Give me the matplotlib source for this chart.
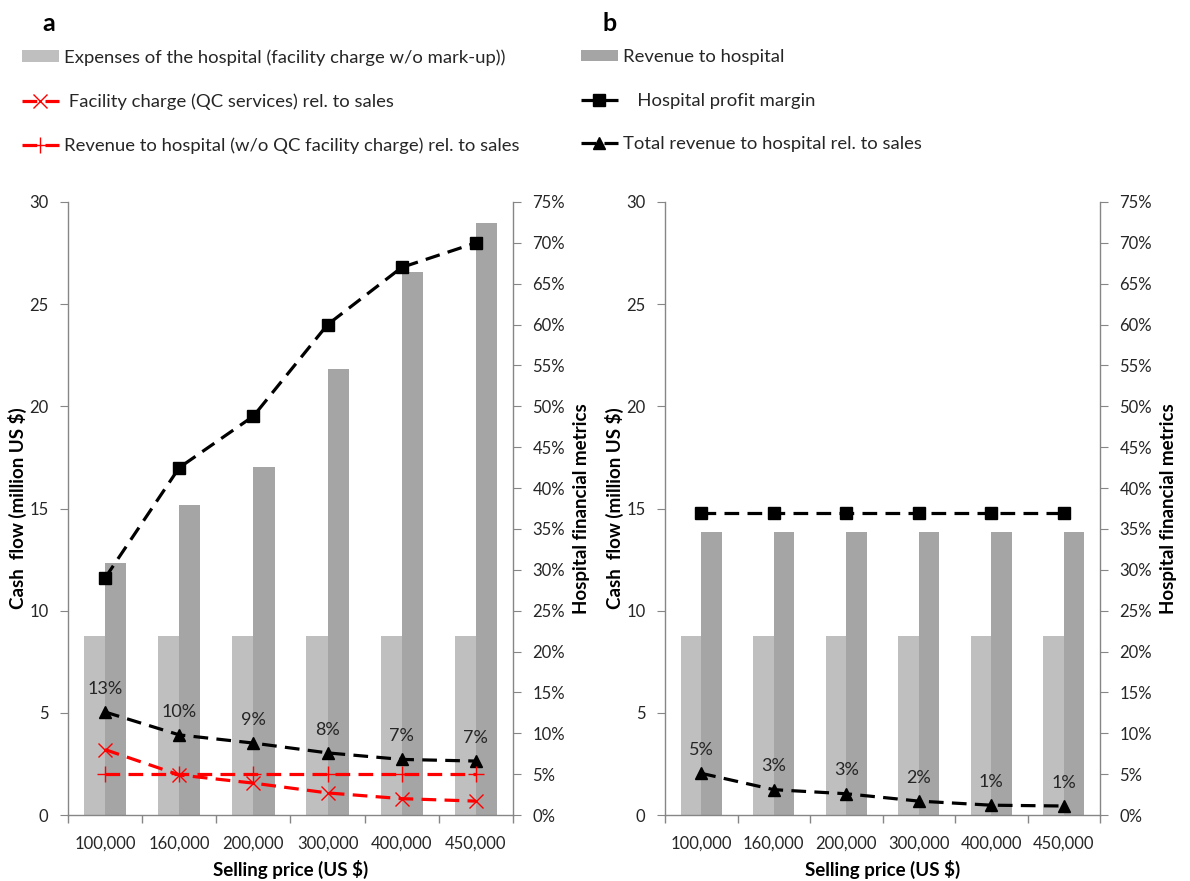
import matplotlib
matplotlib.use("Agg")
import matplotlib.pyplot as plt
from matplotlib.patches import Patch
from matplotlib.lines import Line2D
from matplotlib.ticker import PercentFormatter, FixedLocator
import numpy as np

plt.rcParams['font.family'] = ['Lato', 'DejaVu Sans']

# ---- data -------------------------------------------------------------
prices = ["100,000", "160,000", "200,000", "300,000", "400,000", "450,000"]

# panel a (million US $)
expenses_a = [8.76, 8.76, 8.76, 8.76, 8.76, 8.76]
revenue_a = [12.33, 15.17, 17.03, 21.83, 26.58, 28.98]
# panel a (fractions)
profit_margin_a = [0.29, 0.425, 0.488, 0.60, 0.67, 0.70]
total_rev_rel_a = [0.13, 0.10, 0.09, 0.08, 0.07, 0.07]
total_rev_rel_a_pos = [0.126, 0.098, 0.088, 0.076, 0.068, 0.066]
facility_rel_a = [0.080, 0.049, 0.039, 0.027, 0.020, 0.017]
rev_wo_qc_rel_a = [0.05, 0.05, 0.05, 0.05, 0.05, 0.05]

# panel b
expenses_b = [8.76, 8.76, 8.76, 8.76, 8.76, 8.76]
revenue_b = [13.85, 13.85, 13.85, 13.85, 13.85, 13.85]
profit_margin_b = [0.37, 0.37, 0.37, 0.37, 0.37, 0.37]
total_rev_rel_b = [0.05, 0.03, 0.03, 0.02, 0.01, 0.01]
total_rev_rel_b_pos = [0.051, 0.031, 0.026, 0.017, 0.012, 0.011]

# ---- style ------------------------------------------------------------
LIGHT = "#BFBFBF"
DARK = "#A5A5A5"
AXIS = "#868686"
TXT = "#262626"
RED = "#FF0000"
DASH = (4.6, 2.6)
LW = 2.3
MS = 9
TICK_FS = 12
LABEL_FS = 13.5

W, H = 1190, 881
fig = plt.figure(figsize=(W / 100, H / 100), dpi=100)


def axes_px(left, right, top, bottom):
    return fig.add_axes([left / W, 1 - bottom / H, (right - left) / W, (bottom - top) / H])


def style_axes(ax, ax2):
    n = len(prices)
    x = np.arange(n)
    ax.set_xlim(-0.5, n - 0.5)
    ax.set_ylim(0, 30)
    ax.set_yticks(np.arange(0, 31, 5))
    ax.set_xticks(x)
    ax.set_xticklabels(prices)
    ax.xaxis.set_minor_locator(FixedLocator(np.arange(-0.5, n, 1.0)))
    ax.tick_params(axis="x", which="major", length=0, labelsize=TICK_FS, colors=TXT, pad=15)
    ax.tick_params(axis="x", which="minor", length=6, color=AXIS, width=1)
    ax.tick_params(axis="y", length=6, color=AXIS, labelsize=TICK_FS, labelcolor=TXT, pad=8)
    for s in ("top", "right"):
        ax.spines[s].set_visible(False)
    for s in ("left", "bottom"):
        ax.spines[s].set_color(AXIS)
        ax.spines[s].set_linewidth(1)
    ax.set_ylabel("Cash  flow (million US $)", fontsize=LABEL_FS, fontweight="bold",
                  color="black", labelpad=2)
    ax.set_xlabel("Selling price (US $)", fontsize=LABEL_FS, fontweight="bold",
                  color="black", labelpad=6)

    ax2.set_ylim(0, 0.75)
    ax2.set_yticks(np.arange(0, 0.751, 0.05))
    ax2.yaxis.set_major_formatter(PercentFormatter(1.0, decimals=0))
    ax2.tick_params(axis="y", length=6, color=AXIS, labelsize=TICK_FS, labelcolor=TXT, pad=8)
    for s in ("top", "left", "bottom"):
        ax2.spines[s].set_visible(False)
    ax2.spines["right"].set_color(AXIS)
    ax2.spines["right"].set_linewidth(1)
    ax2.set_ylabel("Hospital financial metrics", fontsize=LABEL_FS, fontweight="bold",
                   color="black", labelpad=6)


def draw_bars(ax, exp, rev):
    x = np.arange(len(prices))
    bw = 0.285
    ax.bar(x - bw / 2, exp, width=bw, color=LIGHT, zorder=2)
    ax.bar(x + bw / 2, rev, width=bw, color=DARK, zorder=2)


def dashed(ax2, vals, color, marker, ms, mew=1.0):
    x = np.arange(len(vals))
    ln, = ax2.plot(x, vals, color=color, lw=LW, marker=marker, ms=ms, mew=mew,
                   mfc=color, mec=color, zorder=4)
    ln.set_dashes(DASH)
    return ln


def pct_labels(ax2, pos, vals):
    for i, (p, v) in enumerate(zip(pos, vals)):
        ax2.annotate(f"{round(v * 100):d}%", (i, p), xytext=(0, 11), textcoords="offset points",
                     ha="center", va="bottom", fontsize=13, color=TXT, zorder=5)


# ---- panel a ----------------------------------------------------------
axa = axes_px(68, 513, 202, 815)
axa2 = axa.twinx()
draw_bars(axa, expenses_a, revenue_a)
style_axes(axa, axa2)
dashed(axa2, profit_margin_a, "black", "s", MS)
dashed(axa2, total_rev_rel_a_pos, "black", "^", MS)
dashed(axa2, rev_wo_qc_rel_a, RED, "+", 12, mew=1.0)
dashed(axa2, facility_rel_a, RED, "x", 10, mew=1.0)
pct_labels(axa2, total_rev_rel_a_pos, total_rev_rel_a)

# ---- panel b ----------------------------------------------------------
axb = axes_px(665, 1100, 202, 815)
axb2 = axb.twinx()
draw_bars(axb, expenses_b, revenue_b)
style_axes(axb, axb2)
dashed(axb2, profit_margin_b, "black", "s", MS)
dashed(axb2, total_rev_rel_b_pos, "black", "^", MS)
pct_labels(axb2, total_rev_rel_b_pos, total_rev_rel_b)

# ---- panel letters ----------------------------------------------------
fig.text(42 / W, 1 - 31 / H, "a", fontsize=18, fontweight="bold", ha="left", va="baseline")
fig.text(603 / W, 1 - 31 / H, "b", fontsize=18, fontweight="bold", ha="left", va="baseline")


# ---- legends ----------------------------------------------------------
def leg_line(color, marker, ms):
    ln = Line2D([], [], color=color, lw=LW, marker=marker, ms=ms, mfc=color, mec=color, mew=1.0)
    ln.set_dashes(DASH)
    return ln


left_handles = [
    Patch(facecolor=LIGHT, edgecolor="none"),
    leg_line(RED, "x", 10),
    leg_line(RED, "+", 12),
]
left_labels = [
    "Expenses of the hospital (facility charge w/o mark-up))",
    " Facility charge (QC services) rel. to sales",
    "Revenue to hospital (w/o QC facility charge) rel. to sales",
]
right_handles = [
    Patch(facecolor=DARK, edgecolor="none"),
    leg_line("black", "s", MS),
    leg_line("black", "^", MS),
]
right_labels = [
    "Revenue to hospital",
    "   Hospital profit margin",
    "Total revenue to hospital rel. to sales",
]

for handles, labels, x0 in ((left_handles, left_labels, 22), (right_handles, right_labels, 581)):
    fig.legend(handles, labels, loc="upper left", bbox_to_anchor=(x0 / W, 1 - 49 / H),
               frameon=False, fontsize=13.3, labelspacing=1.5, handlelength=2.0,
               handleheight=0.55, handletextpad=0.3, borderpad=0, borderaxespad=0,
               labelcolor=TXT)

fig.savefig("out.png", dpi=100)
